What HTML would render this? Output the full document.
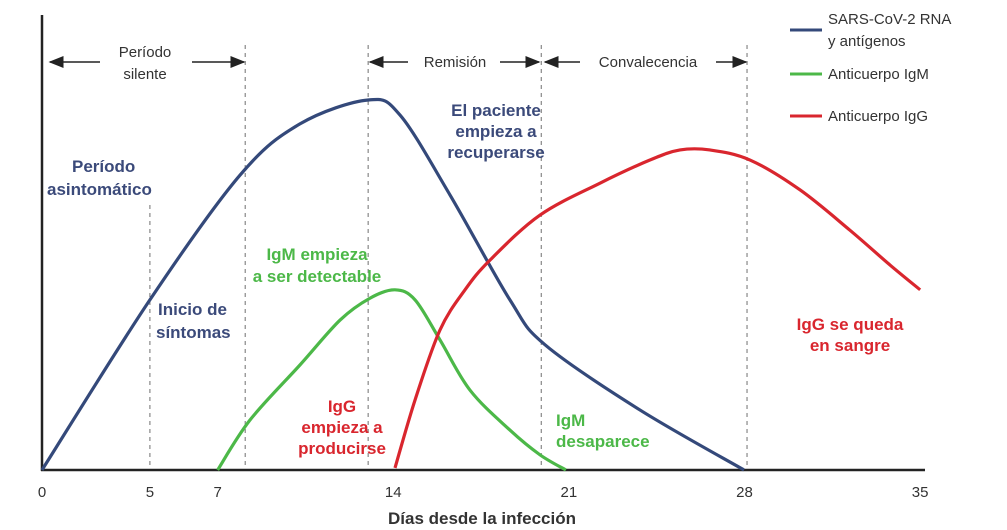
<!DOCTYPE html>
<html><head><meta charset="utf-8">
<style>
body{margin:0;background:#fff;}
svg{display:block;font-family:"Liberation Sans",sans-serif;}
</style></head>
<body>
<svg id="chart" width="1007" height="530" viewBox="0 0 1007 530">
<defs>
<marker id="ah" markerWidth="10" markerHeight="8" refX="9" refY="4" orient="auto"><path d="M0,0 L10,4 L0,8 z" fill="#222"/></marker>
</defs>
<g id="grid"></g>
<g id="axes">
<line x1="42" y1="15" x2="42" y2="471" stroke="#222" stroke-width="2.5"/>
<line x1="41" y1="470" x2="925" y2="470" stroke="#222" stroke-width="2.5"/>
</g>
<g id="ticks" font-size="15" fill="#333" text-anchor="middle"></g>
<text x="482" y="524" text-anchor="middle" font-size="17" font-weight="bold" fill="#333">Días desde la infección</text>

<g font-size="15" fill="#333">
<line x1="100" y1="62" x2="50" y2="62" stroke="#222" stroke-width="1.5" marker-end="url(#ah)"/>
<line x1="192" y1="62" x2="244" y2="62" stroke="#222" stroke-width="1.5" marker-end="url(#ah)"/>
<text x="145" y="57" text-anchor="middle">Período</text>
<text x="145" y="79" text-anchor="middle">silente</text>
<line x1="408" y1="62" x2="370" y2="62" stroke="#222" stroke-width="1.5" marker-end="url(#ah)"/>
<line x1="500" y1="62" x2="539" y2="62" stroke="#222" stroke-width="1.5" marker-end="url(#ah)"/>
<text x="455" y="67" text-anchor="middle">Remisión</text>
<line x1="580" y1="62" x2="545" y2="62" stroke="#222" stroke-width="1.5" marker-end="url(#ah)"/>
<line x1="716" y1="62" x2="746" y2="62" stroke="#222" stroke-width="1.5" marker-end="url(#ah)"/>
<text x="648" y="67" text-anchor="middle">Convalecencia</text>
</g>

<g id="series"></g>

<g font-size="17" font-weight="bold">
<text fill="#3b4a7a" x="47" y="172"><tspan x="72">Período</tspan><tspan x="47" dy="23">asintomático</tspan></text>
<text fill="#3b4a7a" x="158" y="315"><tspan x="158">Inicio de</tspan><tspan x="156" dy="23">síntomas</tspan></text>
<text fill="#3b4a7a" text-anchor="middle" y="116"><tspan x="496">El paciente</tspan><tspan x="496" dy="21">empieza a</tspan><tspan x="496" dy="21">recuperarse</tspan></text>
<text fill="#4cb848" text-anchor="middle" y="260"><tspan x="317">IgM empieza</tspan><tspan x="317" dy="22">a ser detectable</tspan></text>
<text fill="#d9262e" text-anchor="middle" y="412"><tspan x="342">IgG</tspan><tspan x="342" dy="21">empieza a</tspan><tspan x="342" dy="21">producirse</tspan></text>
<text fill="#4cb848" x="556" y="426"><tspan x="556">IgM</tspan><tspan x="556" dy="21">desaparece</tspan></text>
<text fill="#d9262e" text-anchor="middle" y="330"><tspan x="850">IgG se queda</tspan><tspan x="850" dy="21">en sangre</tspan></text>
</g>

<g font-size="15" fill="#333">
<line x1="790" y1="30" x2="822" y2="30" stroke="#34497a" stroke-width="3"/>
<text x="828" y="24">SARS-CoV-2 RNA</text>
<text x="828" y="46">y antígenos</text>
<line x1="790" y1="74" x2="822" y2="74" stroke="#4cb848" stroke-width="3"/>
<text x="828" y="79">Anticuerpo IgM</text>
<line x1="790" y1="116" x2="822" y2="116" stroke="#d9262e" stroke-width="3"/>
<text x="828" y="121">Anticuerpo IgG</text>
</g>
</svg>
<script>
const tickDays = [0, 5, 7, 14, 21, 28, 35];
const markerDays = [4.3, 8.1, 13.0, 19.9, 28.1];
const markerTops = [205, 45, 45, 45, 45];
const rnaDays = [0, 4.30, 7.89, 10.28, 13.0, 14.27, 16.26, 18.65, 20.05, 23.83, 27.98];
const rnaVals = [0, 40.5, 70.2, 82.4, 88.1, 84.5, 65.5, 40.5, 29.8, 14.3, 0];
const igmDays = [7.0, 8.29, 10.28, 11.88, 13.07, 14.07, 14.87, 15.86, 17.06, 18.65, 19.85, 20.88];
const igmVals = [0, 11.9, 25, 35.7, 40.9, 42.9, 40.5, 31, 19, 9.5, 3.6, 0];
const iggDays = [14.07, 14.87, 15.86, 16.86, 17.86, 19.85, 22.24, 24.23, 25.43, 26.62, 28.22, 30.21, 32.2, 33.8, 35.0];
const iggVals = [0.5, 16.7, 33.3, 42.9, 50, 60.7, 68.3, 73.8, 76.2, 76.2, 73.8, 66.7, 57.1, 48.8, 42.9];

const NS = "http://www.w3.org/2000/svg";
function xs(d){ return 42 + d * 25.09; }
function ys(v){ return 470 - v * 4.2; }

const grid = document.getElementById('grid');
markerDays.forEach((d, i) => {
  const l = document.createElementNS(NS, 'line');
  l.setAttribute('x1', xs(d)); l.setAttribute('x2', xs(d));
  l.setAttribute('y1', markerTops[i]); l.setAttribute('y2', 470);
  l.setAttribute('stroke', '#888'); l.setAttribute('stroke-dasharray', '4,4'); l.setAttribute('stroke-width', '1.2');
  
  
  grid.appendChild(l);
});

const ticks = document.getElementById('ticks');
tickDays.forEach(d => {
  const t = document.createElementNS(NS, 'text');
  t.setAttribute('x', d === 5 ? xs(4.3) : xs(d)); t.setAttribute('y', 497);
  t.textContent = d;
  
  
  ticks.appendChild(t);
});

function smooth(pts){
  let s = 'M' + pts[0][0] + ',' + pts[0][1];
  for (let i = 0; i < pts.length - 1; i++) {
    const p0 = pts[i-1] || pts[i], p1 = pts[i], p2 = pts[i+1], p3 = pts[i+2] || p2;
    const c1x = p1[0] + (p2[0]-p0[0])/6, c1y = p1[1] + (p2[1]-p0[1])/6;
    const c2x = p2[0] - (p3[0]-p1[0])/6, c2y = p2[1] - (p3[1]-p1[1])/6;
    s += ` C${c1x},${c1y} ${c2x},${c2y} ${p2[0]},${p2[1]}`;
  }
  return s;
}
const series = document.getElementById('series');
function draw(days, vals, color, name){
  const pts = days.map((d, i) => [xs(d), ys(vals[i])]);
  const p = document.createElementNS(NS, 'path');
  p.setAttribute('d', smooth(pts));
  p.setAttribute('fill', 'none'); p.setAttribute('stroke', color); p.setAttribute('stroke-width', '3.2');
  
  
  series.appendChild(p);
}
draw(rnaDays, rnaVals, '#34497a', 'sars-cov-2-rna-line');
draw(igmDays, igmVals, '#4cb848', 'igm-line');
draw(iggDays, iggVals, '#d9262e', 'igg-line');
</script>
</body></html>
